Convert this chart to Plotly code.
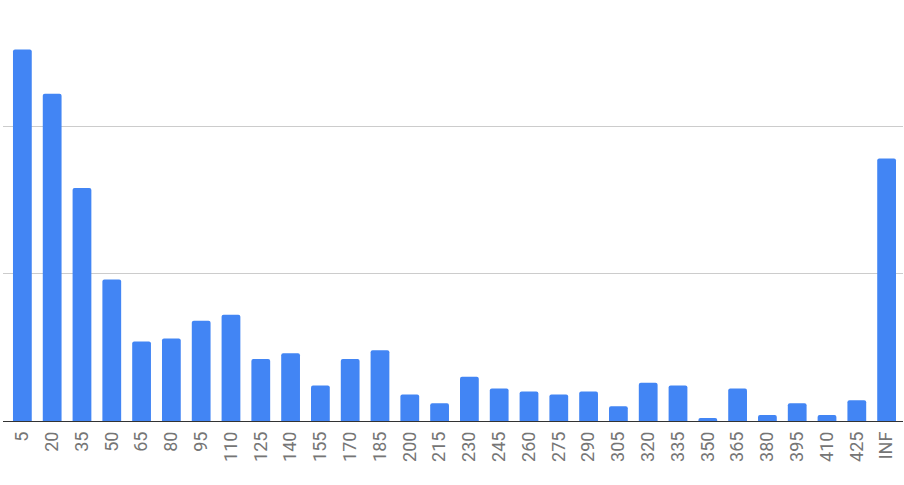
import plotly.graph_objects as go

# bucket upper bounds and counts per bucket
buckets = ["5", "20", "35", "50", "65", "80", "95", "110", "125", "140",
           "155", "170", "185", "200", "215", "230", "245", "260", "275", "290",
           "305", "320", "335", "350", "365", "380", "395", "410", "425", "INF"]
counts = [126, 111, 79, 48, 27, 28, 34, 36, 21, 23,
          12, 21, 24, 9, 6, 15, 11, 10, 9, 10,
          5, 13, 12, 1, 11, 2, 6, 2, 7, 89]

fig = go.Figure()
fig.add_trace(go.Bar(
    x=list(range(len(buckets))),
    y=counts,
    marker=dict(color="#4285f4", cornerradius=2, line=dict(width=0)),
    width=0.63,
    hoverinfo="x+y",
))

fig.update_layout(
    width=904, height=485,
    margin=dict(l=3, r=1, t=10, b=64),
    plot_bgcolor="white",
    paper_bgcolor="white",
    showlegend=False,
    font=dict(family="Roboto", size=18, color="#757575"),
)

fig.update_xaxes(
    tickmode="array",
    tickvals=list(range(len(buckets))),
    ticktext=buckets,
    tickangle=-90,
    range=[-0.65, 29.55],
    showgrid=False,
    showline=False,
    ticks="",
    ticklabelstandoff=6,
)
fig.update_yaxes(
    range=[0, 139.4],
    dtick=50,
    showticklabels=False,
    gridcolor="#cccccc",
    gridwidth=1,
    zeroline=True,
    zerolinecolor="#333333",
    zerolinewidth=1,
    showline=False,
    ticks="",
)

# drop the default body margin so the 904x485 figure fills the window exactly
fig.write_html("out.html", config={"displayModeBar": False},
               post_script="document.body.style.margin='0';")
